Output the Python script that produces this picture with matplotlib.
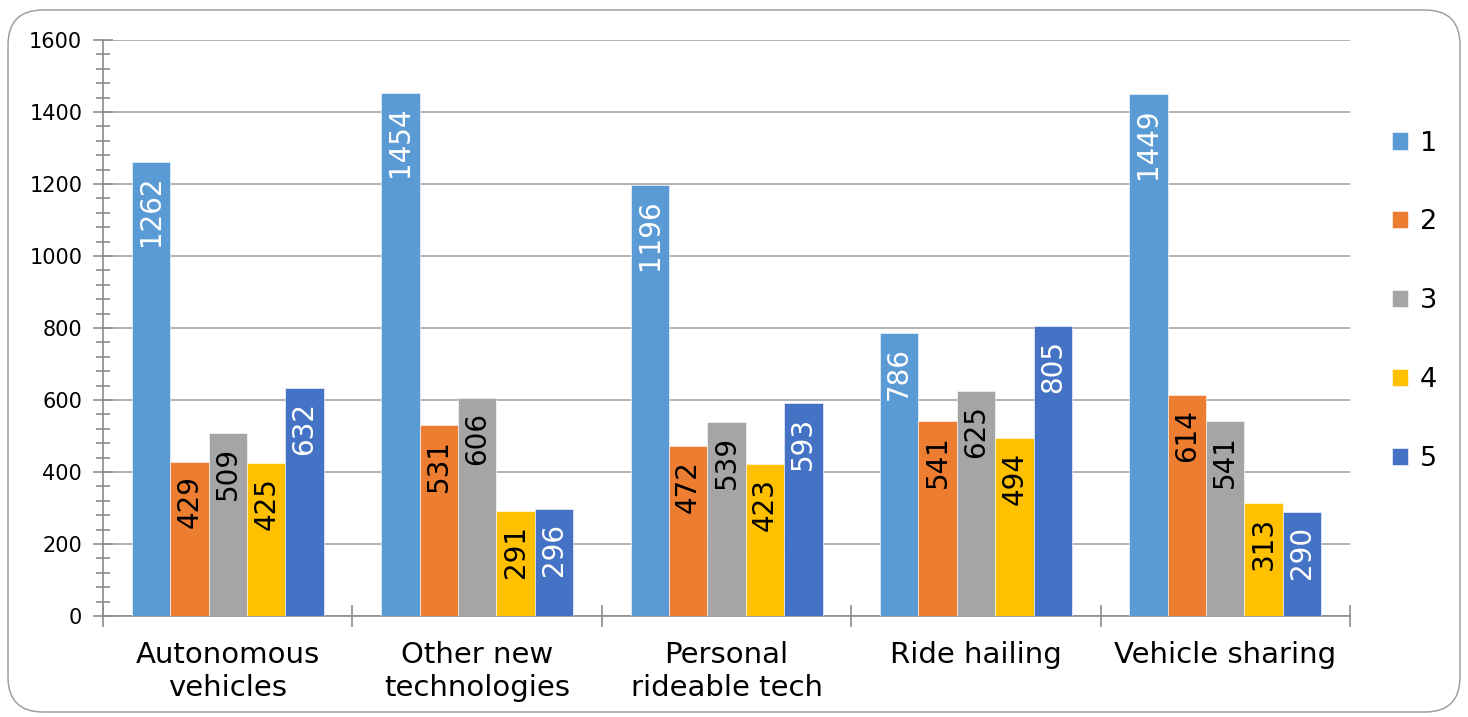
import numpy as np
import matplotlib
matplotlib.use("Agg")
import matplotlib.pyplot as plt
from matplotlib.patches import FancyBboxPatch
from matplotlib.ticker import MultipleLocator

categories = ["Autonomous\nvehicles", "Other new\ntechnologies", "Personal\nrideable tech",
              "Ride hailing", "Vehicle sharing"]
series_names = ["1", "2", "3", "4", "5"]
s1 = [1262, 1454, 1196, 786, 1449]
s2 = [429, 531, 472, 541, 614]
s3 = [509, 606, 539, 625, 541]
s4 = [425, 291, 423, 494, 313]
s5 = [632, 296, 593, 805, 290]
series = [s1, s2, s3, s4, s5]

colors = ["#5B9BD5", "#ED7D31", "#A5A5A5", "#FFC000", "#4472C4"]
label_colors = ["white", "black", "black", "black", "white"]

plt.rcParams['font.family'] = ['DejaVu Sans']

fig = plt.figure(figsize=(14.68, 7.17), dpi=100)
ax = fig.add_axes([0.0702, 0.1409, 0.8494, 0.8033])

# rounded outer frame
frame = FancyBboxPatch((0.08, 0.05), 14.52, 7.02, boxstyle="round,pad=0,rounding_size=0.35",
                       transform=fig.dpi_scale_trans, facecolor="none",
                       edgecolor="#A0A0A0", linewidth=1.1, zorder=0)
fig.patches.append(frame)

n = len(categories)
x = np.arange(n)
group_w = 0.77
bw = group_w / len(series)

for i, (vals, col, lc) in enumerate(zip(series, colors, label_colors)):
    pos = x - group_w / 2 + bw * (i + 0.5)
    ax.bar(pos, vals, width=bw, color=col, edgecolor="white", linewidth=0.4,
           label=series_names[i], zorder=3)
    for px, v in zip(pos, vals):
        ax.annotate(str(v), (px, v), xytext=(0, -10), textcoords="offset points",
                    ha="center", va="top", rotation=90, fontsize=20, color=lc, zorder=4)

ax.set_xlim(-0.5, n - 0.5)
ax.set_ylim(0, 1600)
ax.yaxis.set_major_locator(MultipleLocator(200))
ax.yaxis.set_minor_locator(MultipleLocator(40))
ax.grid(axis="y", color="#ABABAB", linewidth=1.3, zorder=0)

ax.set_xticks(np.arange(-0.5, n, 1.0))
ax.set_xticklabels([])
ax.set_xticks(x, minor=True)
ax.set_xticklabels(categories, minor=True, fontsize=21, linespacing=1.25)
ax.tick_params(axis="x", which="major", direction="inout", length=16, color="#8C8C8C", width=1.2)
ax.tick_params(axis="x", which="minor", length=0, pad=18)
ax.tick_params(axis="y", which="major", direction="inout", length=14, color="#8C8C8C",
               width=1.2, labelsize=15, pad=8)
ax.tick_params(axis="y", which="minor", direction="inout", length=10, color="#8C8C8C", width=1.2)

for side in ["top", "right"]:
    ax.spines[side].set_visible(False)
for side in ["left", "bottom"]:
    ax.spines[side].set_color("#8C8C8C")
    ax.spines[side].set_linewidth(1.2)

fig.legend(loc="center left", bbox_to_anchor=(0.948, 0.58), frameon=False, fontsize=19.5,
           handlelength=0.6, handleheight=0.6, handletextpad=0.45, labelspacing=1.95,
           borderpad=0, borderaxespad=0)

plt.savefig("out.png", dpi=100)
